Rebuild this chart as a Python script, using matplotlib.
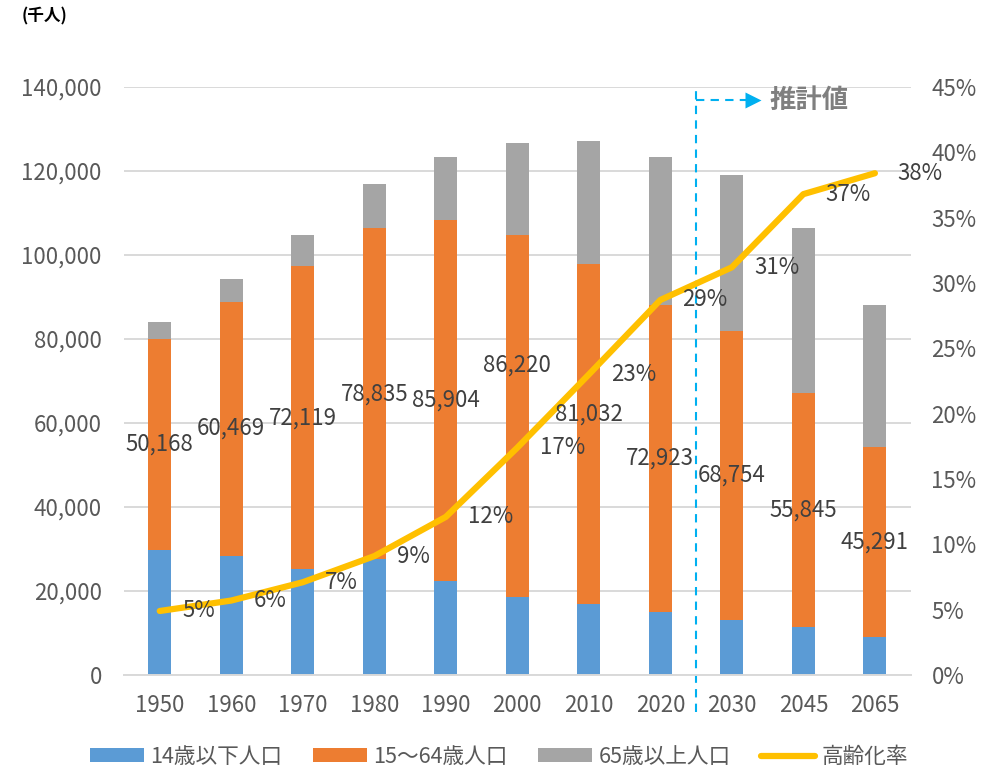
import numpy as np
import matplotlib
matplotlib.use('Agg')
import matplotlib.pyplot as plt
from matplotlib.ticker import MultipleLocator, FuncFormatter

plt.rcParams['font.family'] = ['Noto Sans CJK JP', 'DejaVu Sans']

# data (千人)
years = ['1950', '1960', '1970', '1980', '1990', '2000', '2010', '2020', '2030', '2045', '2065']
pop_0_14 = [29786, 28434, 25153, 27507, 22486, 18472, 16839, 15075, 13212, 11384, 8975]
pop_15_64 = [50168, 60469, 72119, 78835, 85904, 86220, 81032, 72923, 68754, 55845, 45291]
pop_65 = [4155, 5398, 7393, 10647, 14895, 22005, 29246, 35250, 37160, 39192, 33810]
aging_rate = [4.9, 5.7, 7.1, 9.1, 12.1, 17.4, 23.0, 28.7, 31.2, 36.8, 38.4]
series_names = ['14歳以下人口', '15～64歳人口', '65歳以上人口', '高齢化率']

# label nudges for the 15-64 labels (moved by hand in the original)
label_shift = {5: 12200, 6: 4800}

c_blue, c_orange, c_gray, c_yellow = '#5B9BD5', '#ED7D31', '#A5A5A5', '#FFC000'
txt = '#404040'
tick = '#595959'

fig = plt.figure(figsize=(9.92, 7.69), dpi=100)
ax = fig.add_axes([0.125, 0.1222, 0.793, 0.7647])

x = np.arange(len(years))
b1 = np.array(pop_0_14)
b2 = np.array(pop_15_64)
b3 = np.array(pop_65)
w = 0.32
h1 = ax.bar(x, b1, width=w, color=c_blue, label=series_names[0])
h2 = ax.bar(x, b2, bottom=b1, width=w, color=c_orange, label=series_names[1])
h3 = ax.bar(x, b3, bottom=b1 + b2, width=w, color=c_gray, label=series_names[2])

ax.set_xlim(-0.5, len(years) - 0.5)
ax.set_ylim(0, 140000)
ax.yaxis.set_major_locator(MultipleLocator(20000))
ax.yaxis.set_major_formatter(FuncFormatter(lambda v, p: f'{int(v):,}'))
ax.set_xticks(x)
ax.set_xticklabels(years)
ax.grid(axis='y', color='#d9d9d9', lw=1.4)
ax.set_axisbelow(True)
for s in ['top', 'left', 'right']:
    ax.spines[s].set_visible(False)
ax.spines['bottom'].set_color('#d9d9d9')
ax.spines['bottom'].set_linewidth(1.4)
ax.tick_params(axis='y', length=0, labelsize=16, colors=tick, pad=16)
ax.tick_params(axis='x', length=0, labelsize=16, colors=tick, pad=14)

ax2 = ax.twinx()
ax2.set_ylim(0, 45)
ax2.yaxis.set_major_locator(MultipleLocator(5))
ax2.yaxis.set_major_formatter(FuncFormatter(lambda v, p: f'{int(v)}%'))
ax2.tick_params(axis='y', length=0, labelsize=16, colors=tick, pad=15)
for s in ax2.spines.values():
    s.set_visible(False)
h4, = ax2.plot(x, aging_rate, color=c_yellow, lw=4.5, solid_capstyle='round',
               solid_joinstyle='round', label=series_names[3])

# value labels on the 15-64 segment
for i in range(len(years)):
    yc = b1[i] + b2[i] / 2 + label_shift.get(i, 0)
    ax2.text(x[i], yc, f'{pop_15_64[i]:,}', transform=ax.transData, ha='center',
             va='center', fontsize=16, color=txt)

# rate labels
for i, v in enumerate(aging_rate):
    ax2.annotate(f'{v:.0f}%', (x[i], v), xytext=(16, 0), textcoords='offset points',
                 ha='left', va='center', fontsize=16, color=txt)

# projection marker
ax.plot([7.5, 7.5], [-8800, 140000], ls=(0, (4, 3)), color='#00B0F0', lw=1.5, clip_on=False)
ax.plot([7.5, 8.25], [136900, 136900], ls=(0, (4, 3)), color='#00B0F0', lw=1.5, clip_on=False)
ax.plot(8.3, 136900, marker='>', ms=11, color='#00B0F0', mec='none', clip_on=False)
ax.text(8.53, 136900, '推計値', fontsize=19, fontweight='bold', color='#7F7F7F',
        va='center', ha='left')

fig.text(22 / 992, 1 - 16 / 769, '(千人)', fontsize=12, fontweight='bold', va='center')

fig.legend([h1, h2, h3, h4], series_names, loc='center', bbox_to_anchor=(0.503, 12 / 769),
           ncol=4, frameon=False, fontsize=15.6, handlelength=2.5, handleheight=0.6,
           handletextpad=0.3, columnspacing=1.4, labelcolor=tick)

fig.savefig('out.png', dpi=100)
